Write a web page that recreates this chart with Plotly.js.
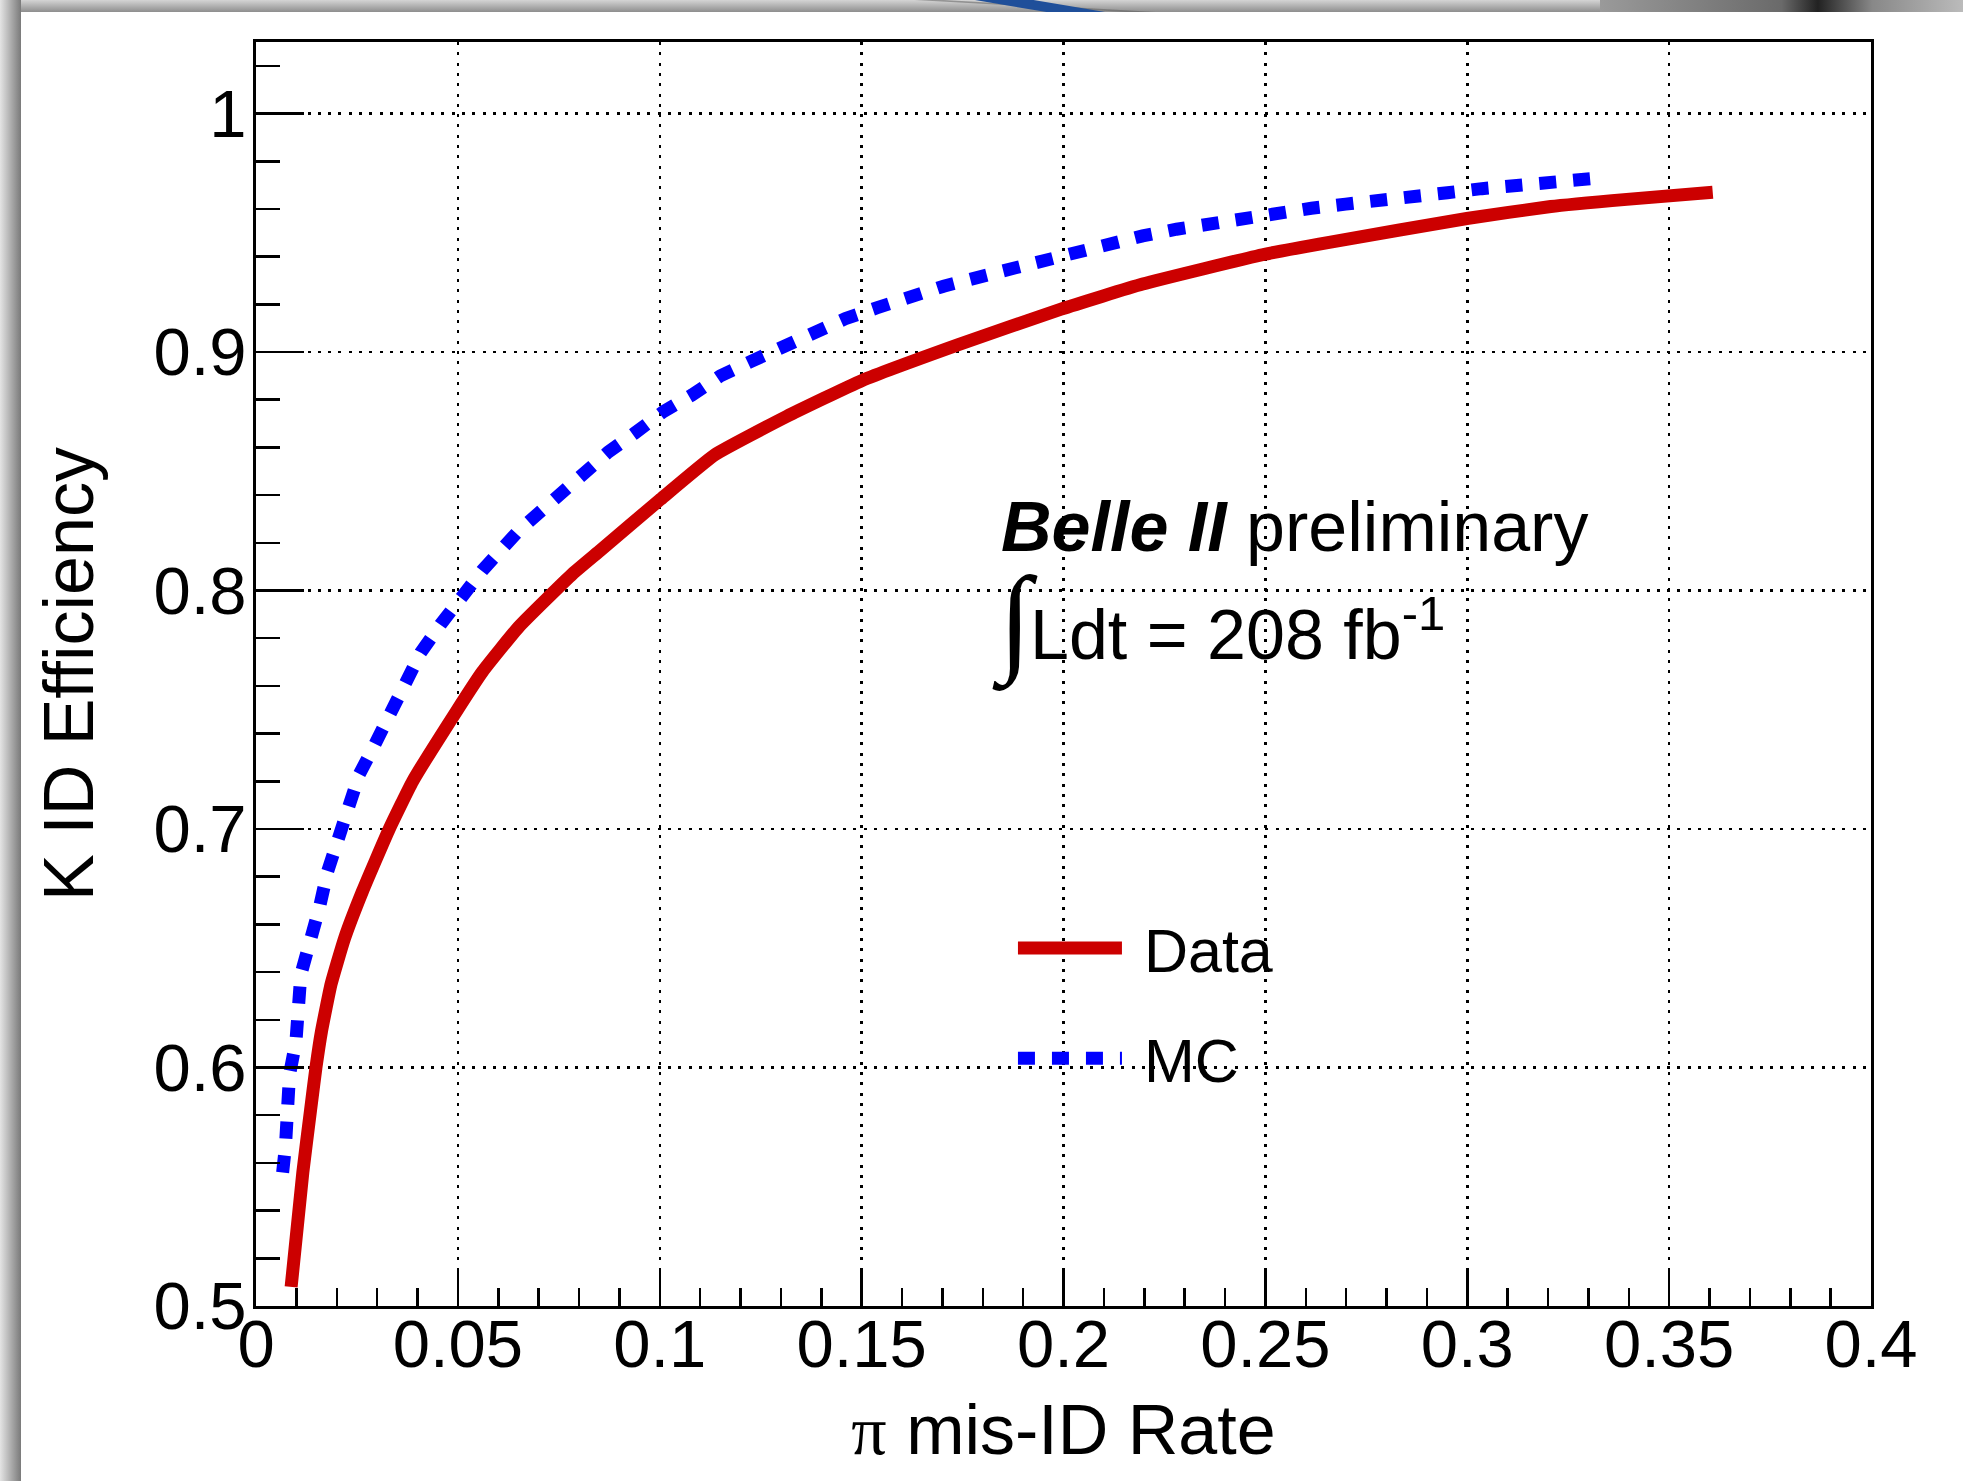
<!DOCTYPE html>
<html>
<head>
<meta charset="utf-8">
<script src="https://cdn.plot.ly/plotly-3.0.1.min.js"></script>
<style>
html,body{margin:0;padding:0;width:1963px;height:1481px;overflow:hidden;background:#ffffff;}
#bgtop{position:absolute;left:0;top:0;width:1963px;height:12px;background:linear-gradient(to bottom,#d4d4d4,#8e8e8e);overflow:hidden;}
#stripe{position:absolute;left:975px;top:0;width:130px;height:12px;background:#1f4f9a;clip-path:polygon(0 0,45% 0,100% 100%,55% 100%);}
#stripe2{position:absolute;left:915px;top:0;width:240px;height:12px;background:#5a5a5a;clip-path:polygon(0 0,12% 0,100% 100%,88% 100%);opacity:0.5;}
#dark{position:absolute;left:1600px;top:0;width:363px;height:12px;background:linear-gradient(to right,#9a9a9a,#6a6a6a 50%,#222 60%,#888 75%,#bbb);}
#bgleft{position:absolute;left:0;top:0;width:21px;height:1481px;background:linear-gradient(to right,#e4e4e4,#7a7a7a);}
#plot{position:absolute;left:0;top:0;width:1963px;height:1481px;}
</style>
</head>
<body>
<div id="bgtop"><div id="stripe2"></div><div id="stripe"></div><div id="dark"></div></div>
<div id="bgleft"></div>
<div id="plot"></div>
<script>
// Data curve (red, solid)
const dataX = [0.0087, 0.0116, 0.0135, 0.01485, 0.0162, 0.0186, 0.0219, 0.0264, 0.0330, 0.0388, 0.0495, 0.0561, 0.0652, 0.0784, 0.0854, 0.1000, 0.1137, 0.1314, 0.1500, 0.1738, 0.1994, 0.2196, 0.2498, 0.2658, 0.2999, 0.3207, 0.3395, 0.3608];
const dataY = [0.508, 0.556, 0.582, 0.600, 0.615, 0.635, 0.654, 0.674, 0.700, 0.720, 0.749, 0.766, 0.785, 0.807, 0.817, 0.838, 0.857, 0.873, 0.888, 0.903, 0.918, 0.9285, 0.941, 0.946, 0.956, 0.961, 0.964, 0.967];

// MC curve (blue, dashed)
const mcX = [0.0066, 0.0073, 0.0083, 0.0099, 0.0111, 0.0140, 0.0157, 0.0177, 0.0200, 0.0227, 0.0256, 0.0293, 0.0330, 0.0367, 0.0408, 0.0458, 0.0507, 0.0561, 0.0650, 0.0750, 0.0872, 0.0938, 0.1009, 0.1080, 0.1150, 0.1225, 0.1305, 0.1380, 0.1460, 0.1539, 0.1619, 0.1703, 0.1850, 0.2003, 0.2110, 0.2196, 0.2280, 0.2366, 0.2446, 0.2531, 0.2614, 0.2699, 0.2784, 0.2866, 0.2951, 0.3036, 0.3121, 0.3207, 0.3314];
const mcY = [0.556, 0.567, 0.597, 0.611, 0.639, 0.654, 0.667, 0.682, 0.695, 0.710, 0.723, 0.735, 0.748, 0.761, 0.774, 0.786, 0.797, 0.8085, 0.825, 0.840, 0.858, 0.866, 0.875, 0.882, 0.890, 0.896, 0.9025, 0.908, 0.914, 0.9186, 0.9235, 0.9276, 0.934, 0.9404, 0.9459, 0.9487, 0.9515, 0.9539, 0.9564, 0.9582, 0.9603, 0.962, 0.964, 0.9654, 0.9668, 0.9685, 0.9699, 0.971, 0.9728];

const seriesNames = ['Data', 'MC'];

const xTickVals = [0, 0.05, 0.1, 0.15, 0.2, 0.25, 0.3, 0.35, 0.4];
const xTickText = ['0', '0.05', '0.1', '0.15', '0.2', '0.25', '0.3', '0.35', '0.4'];
const yTickVals = [0.5, 0.6, 0.7, 0.8, 0.9, 1.0];
const yTickText = ['0.5', '0.6', '0.7', '0.8', '0.9', '1'];

const FONT = 'Liberation Sans, Arial, Helvetica, sans-serif';

const traces = [
  {x: dataX, y: dataY, name: '\u00a0' + seriesNames[0], type: 'scatter', mode: 'lines',
   line: {color: '#cc0000', width: 13, shape: 'spline', smoothing: 0.4}, legendgroup: 'a'},
  {x: mcX, y: mcY, name: '\u00a0' + seriesNames[1], type: 'scatter', mode: 'lines',
   line: {color: '#0000ff', width: 13, dash: '17px,17px'}, legendgroup: 'b'}
];

const axisCommon = {
  showline: true, linecolor: '#000', linewidth: 3, mirror: true,
  ticks: 'inside', tickcolor: '#000', tickwidth: 2.5,
  showgrid: true, gridcolor: '#000', gridwidth: 2.5, griddash: '3px,7.3px',
  zeroline: false, tickmode: 'array',
  tickfont: {family: FONT, size: 67, color: '#000'}
};

const layout = {
  width: 1963, height: 1481,
  margin: {l: 256, r: 92, t: 42, b: 175, pad: 0},
  paper_bgcolor: 'rgba(0,0,0,0)', plot_bgcolor: 'rgba(0,0,0,0)',
  font: {family: FONT, color: '#000'},
  showlegend: true,
  legend: {x: 0.4687, y: 0.3197, xanchor: 'left', yanchor: 'top', bgcolor: 'rgba(0,0,0,0)',
           font: {family: FONT, size: 61, color: '#000'}, itemwidth: 104, tracegroupgap: 28,
           traceorder: 'grouped'},
  xaxis: Object.assign({}, axisCommon, {
    range: [0, 0.4], tickvals: xTickVals, ticktext: xTickText, ticklen: 38, ticklabelstandoff: -22,
    minor: {tickmode: 'linear', tick0: 0, dtick: 0.01, ticks: 'inside', ticklen: 18, tickwidth: 2.5, tickcolor: '#000', showgrid: false},
    title: {text: '<span style="font-family:Liberation Serif">π</span> mis-ID Rate', font: {family: FONT, size: 70, color: '#000'}, standoff: 25}
  }),
  yaxis: Object.assign({}, axisCommon, {
    range: [0.5, 1.03], tickvals: yTickVals, ticktext: yTickText, ticklen: 48, ticklabelstandoff: -7,
    minor: {tickmode: 'linear', tick0: 0, dtick: 0.02, ticks: 'inside', ticklen: 24, tickwidth: 2.5, tickcolor: '#000', showgrid: false},
    title: {text: 'K ID Efficiency', font: {family: FONT, size: 70, color: '#000'}, standoff: 37}
  }),
  annotations: [
    {xref: 'paper', yref: 'paper', x: 0.46, y: 0.616, xanchor: 'left', yanchor: 'middle', showarrow: false,
     text: '<b><i>Belle II</i></b> preliminary', font: {family: FONT, size: 70, color: '#000'}},
    {xref: 'paper', yref: 'paper', x: 0.478, y: 0.535, xanchor: 'left', yanchor: 'middle', showarrow: false,
     text: 'Ldt = 208 fb<sup>-1</sup>', font: {family: FONT, size: 70, color: '#000'}},
    {xref: 'paper', yref: 'paper', x: 0.4545, y: 0.5411, xanchor: 'left', yanchor: 'middle', showarrow: false,
     text: '∫', font: {family: 'Liberation Serif, DejaVu Serif, serif', size: 119, color: '#000'}}
  ]
};

Plotly.newPlot('plot', traces, layout, {staticPlot: true}).then(function () {
  document.querySelectorAll('#plot .legend .legendlines path').forEach(function (p) {
    p.style.strokeWidth = '13px';
  });
});
</script>
</body>
</html>
